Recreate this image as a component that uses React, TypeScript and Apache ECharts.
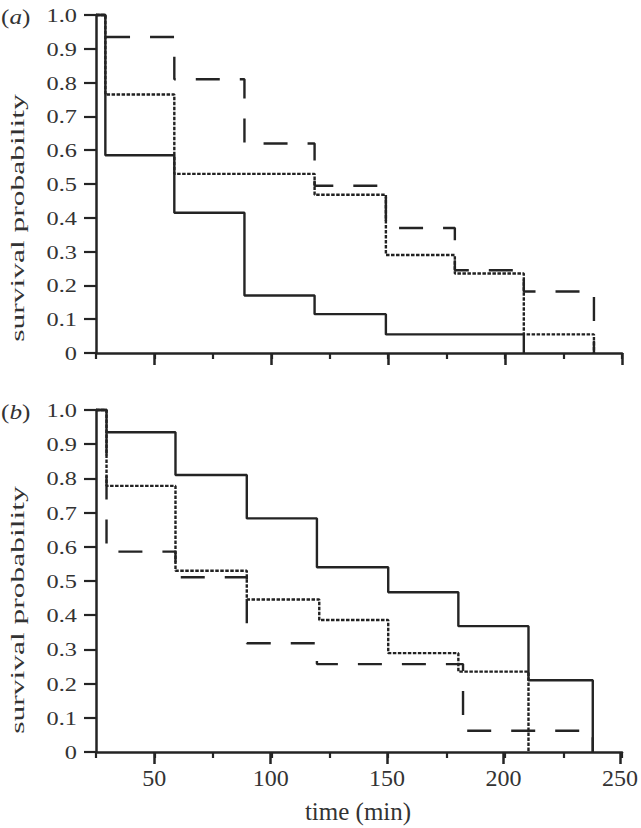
import React, { useEffect, useRef } from 'react';
import * as echarts from 'echarts';

// x-axis tick values (min) and y-axis tick values
const timeTicks = ['25', '50', '75', '100', '125', '150', '175', '200', '225', '250'];
const yTickValues = [0, 0.1, 0.2, 0.3, 0.4, 0.5, 0.6, 0.7, 0.8, 0.9, 1.0];
const yTickLabels = ['0', '0.1', '0.2', '0.3', '0.4', '0.5', '0.6', '0.7', '0.8', '0.9', '1.0'];

// panel (a): step times (min) and survival probability after each step
const aSolidT = [25, 29, 58.5, 88.5, 118.5, 149, 208];
const aSolidS = [1.0, 0.585, 0.415, 0.17, 0.115, 0.055, 0];
const aDashT = [25, 29, 58.5, 88.5, 118.5, 149, 178.5, 208, 238];
const aDashS = [1.0, 0.935, 0.81, 0.62, 0.495, 0.37, 0.245, 0.182, 0];
const aDotT = [25, 29, 58.5, 118.5, 149, 178.5, 208, 238];
const aDotS = [1.0, 0.765, 0.53, 0.468, 0.29, 0.235, 0.055, 0];

// panel (b)
const bSolidT = [25, 29.5, 59, 89.5, 119.5, 150, 180, 210, 237.5];
const bSolidS = [1.0, 0.935, 0.81, 0.683, 0.54, 0.467, 0.368, 0.21, 0];
const bDotT = [25, 29.5, 59, 89.5, 120.5, 150, 180, 210];
const bDotS = [1.0, 0.778, 0.53, 0.446, 0.386, 0.289, 0.235, 0];
const bDashT = [25, 29.5, 59, 89.5, 119.5, 182, 237.5];
const bDashS = [1.0, 0.586, 0.511, 0.318, 0.257, 0.062, 0];

const INK = '#242424';
const TEXT = '#333333';
const SERIF = '"Liberation Serif", "Times New Roman", serif';

const pairs = (t: number[], s: number[]) => t.map((v, i) => [v, s[i]]);

function dataXAxis(gridIndex: number) {
  return {
    type: 'value', gridIndex, min: 25, max: 250, interval: 25,
    axisLine: { show: true, lineStyle: { color: INK, width: 2.5 } },
    axisTick: { show: true, length: 6, lineStyle: { color: INK, width: 2.2 } },
    axisLabel: { show: false },
    splitLine: { show: false },
  };
}

function majorXAxis(gridIndex: number, withLabels: boolean) {
  const major = (_i: number, v: string) => Number(v) % 50 === 0;
  return {
    type: 'category', gridIndex, data: timeTicks, boundaryGap: false,
    axisLine: { show: false },
    axisTick: { show: true, length: 12, interval: major, lineStyle: { color: INK, width: 2.5 } },
    axisLabel: {
      show: withLabels, interval: major, margin: 14,
      color: TEXT, fontFamily: SERIF, fontSize: 24,
    },
    splitLine: { show: false },
    name: withLabels ? 'time (min)' : '',
    nameLocation: 'middle', nameGap: 47,
    nameTextStyle: { color: TEXT, fontFamily: SERIF, fontSize: 25 },
  };
}

function dataYAxis(gridIndex: number) {
  return {
    type: 'value', gridIndex, min: 0, max: 1, interval: 0.1,
    axisLine: { show: true, lineStyle: { color: INK, width: 2.5 } },
    axisTick: { show: true, length: 12, lineStyle: { color: INK, width: 2.2 } },
    axisLabel: { show: false },
    splitLine: { show: false },
  };
}

function hiddenYAxis(gridIndex: number) {
  return { type: 'value', gridIndex, min: 0, max: 1, show: false };
}

function stepSeries(axisIndex: number, t: number[], s: number[], kind: 'solid' | 'dash' | 'dot') {
  const lineStyle: any = { color: INK, width: 2.4 };
  if (kind === 'dash') { lineStyle.type = [24, 20]; lineStyle.dashOffset = 12; }
  if (kind === 'dot') { lineStyle.type = [3.5, 1.5]; lineStyle.width = 2.4; lineStyle.color = '#222'; }
  return {
    type: 'line', xAxisIndex: axisIndex, yAxisIndex: axisIndex,
    data: pairs(t, s), step: 'end', symbol: 'none', showSymbol: false,
    clip: false, lineStyle, silent: true,
  };
}

export default function App() {
  const ref = useRef<HTMLDivElement>(null);
  useEffect(() => {
    if (!ref.current) return;
    const chart = echarts.init(ref.current, undefined, { renderer: 'svg' });
    const gridA = { left: 96, top: 15, width: 526, height: 338 };
    const gridB = { left: 96, top: 410, width: 526, height: 342 };
    chart.setOption({
      animation: false,
      grid: [gridA, gridA, gridB, gridB],
      xAxis: [dataXAxis(0), majorXAxis(1, false), dataXAxis(2), majorXAxis(3, true)],
      yAxis: [dataYAxis(0), hiddenYAxis(1), dataYAxis(2), hiddenYAxis(3)],
      series: [
        stepSeries(0, aDashT, aDashS, 'dash'),
        stepSeries(0, aDotT, aDotS, 'dot'),
        stepSeries(0, aSolidT, aSolidS, 'solid'),
        stepSeries(2, bDashT, bDashS, 'dash'),
        stepSeries(2, bDotT, bDotS, 'dot'),
        stepSeries(2, bSolidT, bSolidS, 'solid'),
      ],
    });

    const graphics: any[] = [];
    const panels = [
      { axis: 0, tag: 'a', titleOffset: 34 },
      { axis: 2, tag: 'b', titleOffset: 29 },
    ];
    panels.forEach((p) => {
      const finder = { xAxisIndex: p.axis, yAxisIndex: p.axis };
      yTickValues.forEach((v, i) => {
        const pt = chart.convertToPixel(finder, [25, v]) as number[];
        graphics.push({
          type: 'text', x: pt[0] - 19, y: pt[1] + 1, scaleX: 1.28, silent: true,
          style: {
            text: yTickLabels[i], fill: TEXT, fontFamily: SERIF, fontSize: 19,
            align: 'right', verticalAlign: 'middle', textAlign: 'right', textVerticalAlign: 'middle',
          },
        });
      });
      const top = chart.convertToPixel(finder, [25, 1]) as number[];
      const mid = chart.convertToPixel(finder, [25, 0.5]) as number[];
      graphics.push({
        type: 'text', x: 18, y: mid[1] + p.titleOffset, rotation: Math.PI / 2, scaleX: 1.66, silent: true,
        style: {
          text: 'survival probability', fill: TEXT, fontFamily: SERIF, fontSize: 19,
          align: 'center', verticalAlign: 'middle', textAlign: 'center', textVerticalAlign: 'middle',
        },
      });
      graphics.push({
        type: 'text', x: 1, y: top[1] + 2, scaleX: 1.2, silent: true,
        style: {
          text: '{p|(}{i|' + p.tag + '}{p|)}', fill: TEXT,
          align: 'left', verticalAlign: 'middle', textAlign: 'left', textVerticalAlign: 'middle',
          rich: {
            p: { fontFamily: SERIF, fontSize: 21, fill: TEXT, color: TEXT },
            i: { fontFamily: SERIF, fontSize: 21, fontStyle: 'italic', fill: TEXT, color: TEXT },
          },
        },
      });
    });
    chart.setOption({ graphic: graphics });

    return () => chart.dispose();
  }, []);
  return (
    <div
      ref={ref}
      style={{ position: 'absolute', left: 0, top: 0, width: 641, height: 828, background: '#fff' }}
    />
  );
}
